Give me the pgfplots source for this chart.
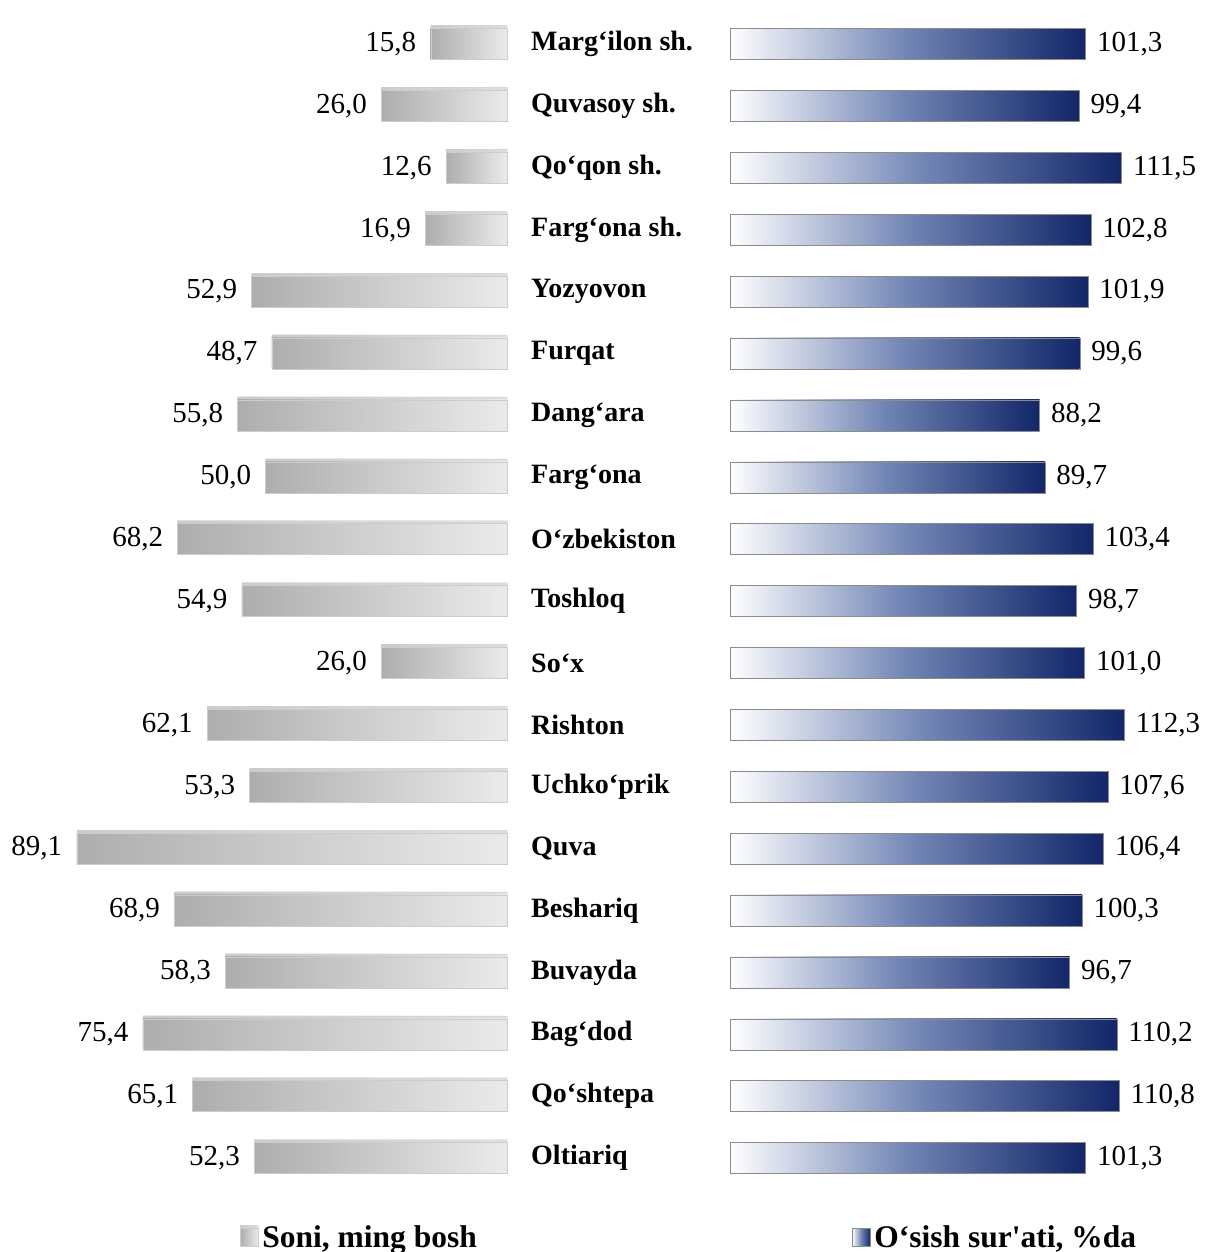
\documentclass[border=0pt]{standalone}
\usepackage{pgfplots}
\pgfplotsset{compat=1.18}
\usetikzlibrary{shadows}
\usepackage{fontspec}
\setmainfont{Liberation Serif}
\newfontfamily\nolig{Liberation Serif}
\definecolor{navy}{RGB}{18,38,105}
\definecolor{midblue}{RGB}{112,132,180}
\pgfplotsset{
 lbar/.style={draw=black!20, left color=black!32, right color=black!8,
   preaction={drop shadow={shadow xshift=0pt, shadow yshift=3pt, opacity=0.3}}},
 rbar/.style={draw=black!45, left color=white, right color=navy, middle color=midblue},
}
\begin{document}
\begin{tikzpicture}
\path[use as bounding box] (0,0) rectangle (1207pt,1252pt);
\begin{axis}[
 at={(507pt,1239pt)}, anchor=north east,
 scale only axis, width=507pt, height=1176pt,
 xbar, bar width=31pt, bar shift=0pt,
 x dir=reverse, y dir=reverse,
 xmin=0, xmax=105, ymin=-0.5, ymax=18.5,
 axis line style={draw=none}, major tick length=0pt,
 xtick=\empty, ytick=\empty,
 clip=false,
 nodes near coords={\pgfmathprintnumber[fixed,fixed zerofill,precision=1,use comma,assume math mode=true]{\pgfplotspointmeta}},
 every node near coord/.append style={anchor=east, font=\fontsize{29}{31}\selectfont, xshift=-11pt},
 legend style={at={(axis description cs:0.473,-0.041)}, anchor=west, draw=none, fill=none, font=\bfseries\fontsize{31.5}{33}\selectfont, inner sep=0pt},
 legend image code/.code={\draw[draw=black!20, left color=black!32, right color=black!8] (0pt,-9pt) rectangle (18pt,9pt);},
]
\addplot[lbar] coordinates {(15.8,0)};
\addlegendentry{\hspace{2pt}Soni, ming bosh}
\addplot[lbar,forget plot] coordinates {(26.0,1)};
\addplot[lbar,forget plot] coordinates {(12.6,2)};
\addplot[lbar,forget plot] coordinates {(16.9,3)};
\addplot[lbar,forget plot] coordinates {(52.9,4)};
\addplot[lbar,forget plot] coordinates {(48.7,5)};
\addplot[lbar,forget plot] coordinates {(55.8,6)};
\addplot[lbar,forget plot] coordinates {(50.0,7)};
\addplot[lbar,forget plot] coordinates {(68.2,8)};
\addplot[lbar,forget plot] coordinates {(54.9,9)};
\addplot[lbar,forget plot] coordinates {(26.0,10)};
\addplot[lbar,forget plot] coordinates {(62.1,11)};
\addplot[lbar,forget plot] coordinates {(53.3,12)};
\addplot[lbar,forget plot] coordinates {(89.1,13)};
\addplot[lbar,forget plot] coordinates {(68.9,14)};
\addplot[lbar,forget plot] coordinates {(58.3,15)};
\addplot[lbar,forget plot] coordinates {(75.4,16)};
\addplot[lbar,forget plot] coordinates {(65.1,17)};
\addplot[lbar,forget plot] coordinates {(52.3,18)};
\end{axis}
\begin{axis}[
 at={(730pt,1239pt)}, anchor=north west,
 scale only axis, width=474pt, height=1176pt,
 xbar, bar width=31pt, bar shift=0pt,
 y dir=reverse,
 xmin=0, xmax=135, ymin=-0.5, ymax=18.5,
 axis line style={draw=none}, major tick length=0pt,
 xtick=\empty, ytick={0,...,18},
 yticklabels={Marg‘ilon sh., Quvasoy sh., Qo‘qon sh., Farg‘ona sh., Yozyovon, Furqat, Dang‘ara, Farg‘ona, O‘zbekiston, Toshloq, So‘x, Rishton, Uchko‘prik, Quva, Beshariq, Buvayda, Bag‘dod, Qo‘shtepa, Oltiariq},
 yticklabel style={anchor=west, inner sep=0pt, xshift=-199pt, font=\bfseries\fontsize{28}{30}\selectfont},
 clip=false,
 nodes near coords={\pgfmathprintnumber[fixed,fixed zerofill,precision=1,use comma,assume math mode=true]{\pgfplotspointmeta}},
 every node near coord/.append style={anchor=west, font=\fontsize{29}{31}\selectfont, xshift=8pt},
 legend style={at={(axis description cs:0.257,-0.041)}, anchor=west, draw=none, fill=none, font=\bfseries\fontsize{31.5}{33}\selectfont, inner sep=0pt},
 legend image code/.code={\draw[draw=black!45, left color=white, right color=navy, middle color=midblue] (0pt,-9pt) rectangle (18pt,9pt);},
]
\addplot[rbar] coordinates {(101.3,0)};
\addlegendentry{\hspace{2pt}O‘sish sur{\nolig '}ati, \%da}
\addplot[rbar,forget plot] coordinates {(99.4,1)};
\addplot[rbar,forget plot] coordinates {(111.5,2)};
\addplot[rbar,forget plot] coordinates {(102.8,3)};
\addplot[rbar,forget plot] coordinates {(101.9,4)};
\addplot[rbar,forget plot] coordinates {(99.6,5)};
\addplot[rbar,forget plot] coordinates {(88.2,6)};
\addplot[rbar,forget plot] coordinates {(89.7,7)};
\addplot[rbar,forget plot] coordinates {(103.4,8)};
\addplot[rbar,forget plot] coordinates {(98.7,9)};
\addplot[rbar,forget plot] coordinates {(101.0,10)};
\addplot[rbar,forget plot] coordinates {(112.3,11)};
\addplot[rbar,forget plot] coordinates {(107.6,12)};
\addplot[rbar,forget plot] coordinates {(106.4,13)};
\addplot[rbar,forget plot] coordinates {(100.3,14)};
\addplot[rbar,forget plot] coordinates {(96.7,15)};
\addplot[rbar,forget plot] coordinates {(110.2,16)};
\addplot[rbar,forget plot] coordinates {(110.8,17)};
\addplot[rbar,forget plot] coordinates {(101.3,18)};
\end{axis}
\end{tikzpicture}
\end{document}
